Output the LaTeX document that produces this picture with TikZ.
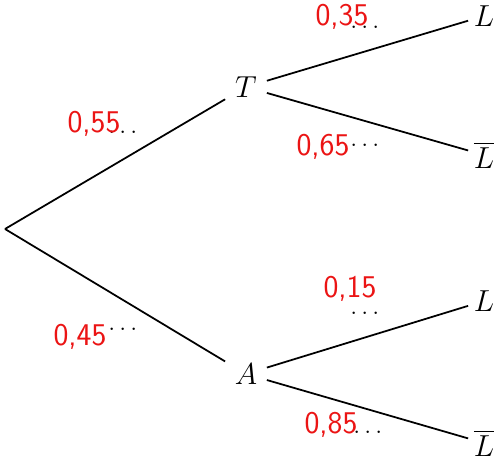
\documentclass[tikz,border=0pt]{standalone}
\usepackage{tikz}
\usetikzlibrary{positioning}
\usepackage{amsmath,amssymb}
\definecolor{penred}{RGB}{235,20,20}

\begin{document}
\begin{tikzpicture}[line width=1pt,
    evt/.style={minimum width=0.8cm,minimum height=0.6cm,inner sep=0pt,font=\LARGE},
    leaf/.style={evt,minimum width=0.6cm},
    hand/.style={penred,font=\sffamily\fontsize{18}{22}\selectfont,inner sep=0pt}]
  \useasboundingbox (0,0) rectangle (9.98,9.22);
  % tree nodes
  \coordinate (root) at (0.1,4.64);
  \node[evt] (T)  at (4.92,7.48) {$T$};
  \node[evt] (A)  at (4.92,1.74) {$A$};
  \node[leaf] (TL)  at (9.68,8.9)  {$L$};
  \node[leaf] (TLb) at (9.68,6.12) {$\overline{L}$};
  \node[leaf] (AL)  at (9.68,3.2)  {$L$};
  \node[leaf] (ALb) at (9.68,0.36) {$\overline{L}$};
  % branches
  \draw (root) -- (T);
  \draw (root) -- (A);
  \draw (T) -- (TL);  \draw (T) -- (TLb);
  \draw (A) -- (AL);  \draw (A) -- (ALb);
  % blanks to fill
  \foreach \n/\x/\y in {a/2.5/6.58,b/2.5/2.64,c/7.34/8.68,d/7.34/6.32,e/7.34/2.96,f/7.4/0.58}{
     \node[font=\Large,inner sep=0pt] (dots\n) at (\x,\y) {$\dots$};
  }
  % handwritten answers
  \node[hand] (pT)   at (1.88,6.74) {0,55};
  \node[hand] (pA)   at (1.6,2.48)  {0,45};
  \node[hand] (pTL)  at (6.84,8.88) {0,35};
  \node[hand] (pTLb) at (6.46,6.28) {0,65};
  \node[hand] (pAL)  at (7.0,3.44)  {0,15};
  \node[hand] (pALb) at (6.62,0.72) {0,85};
\end{tikzpicture}
\end{document}
